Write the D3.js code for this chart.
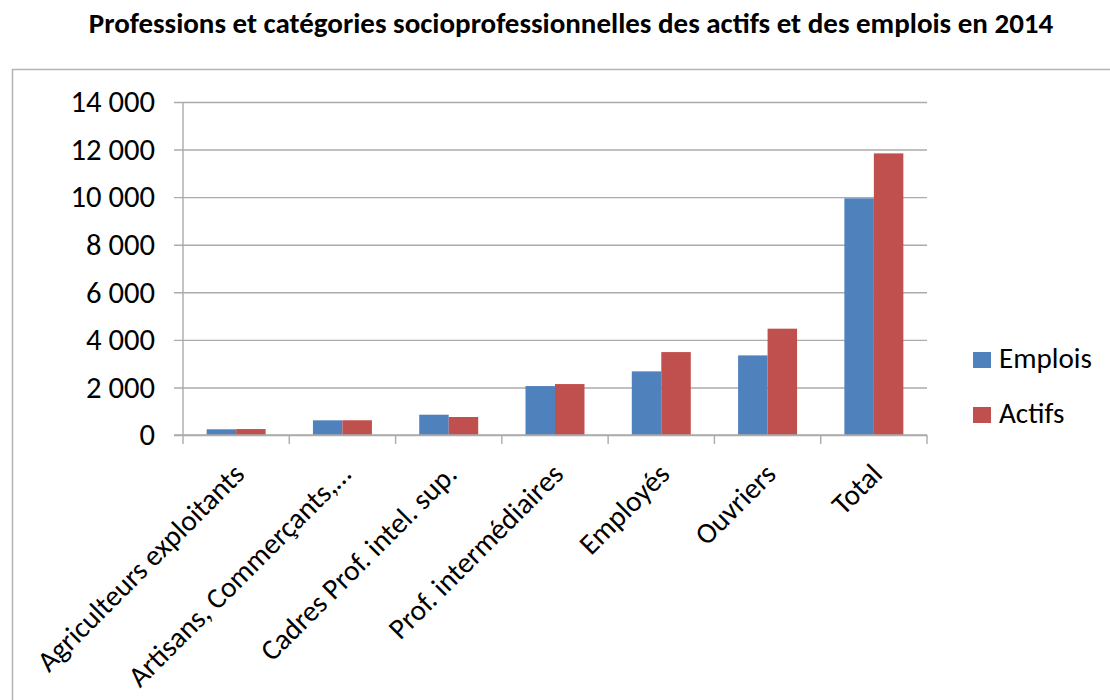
<!DOCTYPE html>
<html>
<head>
<meta charset="utf-8">
<script src="https://cdn.jsdelivr.net/npm/d3@7"></script>
<style>
  body { margin: 0; background: #fff; }
  svg { display: block; }
  text { font-family: Carlito, Calibri, "Open Sans", sans-serif; fill: #000; }
</style>
</head>
<body>
<svg width="1110" height="700"></svg>
<script>
// categories and values
var categories = ["Agriculteurs exploitants", "Artisans, Commerçants,…", "Cadres Prof. intel. sup.",
                  "Prof. intermédiaires", "Employés", "Ouvriers", "Total"];
var emplois = [240, 617, 853, 2058, 2675, 3347, 9950];
var actifs  = [250, 620, 756, 2142, 3486, 4470, 11840];
var seriesNames = ["Emplois", "Actifs"];
var yTicks = [0, 2000, 4000, 6000, 8000, 10000, 12000, 14000];
var title = "Professions et catégories socioprofessionnelles des actifs et des emplois en 2014";

var colors = {"Emplois": "#4f81bd", "Actifs": "#c0504d"};

var svg = d3.select("svg");

var margin = {top: 102, left: 183, right: 183, bottom: 265},
    width = 927 - margin.left,
    height = 435 - margin.top;

var locale = d3.formatLocale({decimal: ",", thousands: " ", grouping: [3], currency: ["", " €"]});
var fmt = locale.format(",d");

// pick font sizes by measured width
function fitSize(str, target, weight) {
  var t = svg.append("text").attr("font-size", 100).attr("font-weight", weight || "normal").text(str);
  var w = t.node().getComputedTextLength();
  t.remove();
  return 100 * target / w;
}
var bodySize = fitSize("Emplois", 93);
var titleSize = fitSize(title, 965, "bold");

// outer frame
svg.append("rect")
    .attr("x", 12.5).attr("y", 69.5)
    .attr("width", 1120).attr("height", 700)
    .attr("fill", "none")
    .attr("stroke", "#b4b4b4")
    .attr("stroke-width", 1.5);

svg.append("text")
    .attr("x", 571).attr("y", 33)
    .attr("text-anchor", "middle")
    .attr("font-weight", "bold")
    .attr("font-size", titleSize)
    .text(title);

var g = svg.append("g").attr("transform", "translate(" + margin.left + "," + margin.top + ")");

var x0 = d3.scaleBand()
    .domain(categories)
    .range([0, width])
    .paddingInner(0.445)
    .paddingOuter(0.2225);

var x1 = d3.scaleBand()
    .domain(seriesNames)
    .range([0, x0.bandwidth()]);

var y = d3.scaleLinear()
    .domain([0, 14000])
    .range([height, 0]);

// gridlines + y labels
var yAxis = g.append("g")
    .call(d3.axisLeft(y).tickValues(yTicks).tickSize(-width - 9).tickFormat(fmt))
    .attr("transform", "translate(-9,0)");
yAxis.select(".domain").remove();
yAxis.selectAll(".tick line")
    .attr("x1", 0).attr("x2", width + 9)
    .attr("stroke", "#ababab").attr("stroke-width", 1.4);
yAxis.selectAll(".tick text")
    .attr("x", -19)
    .attr("font-size", bodySize * 1.05)
    .attr("font-family", null)
    .attr("fill", "#000");

// vertical axis line
g.append("line")
    .attr("x1", 0).attr("x2", 0)
    .attr("y1", 0).attr("y2", height)
    .attr("stroke", "#ababab").attr("stroke-width", 1.4);

// category tick marks at band boundaries
var bounds = d3.range(categories.length + 1).map(function(i) { return i * x0.step(); });
g.selectAll(".ctick")
    .data(bounds)
  .enter().append("line")
    .attr("class", "ctick")
    .attr("x1", function(d) { return d; }).attr("x2", function(d) { return d; })
    .attr("y1", height).attr("y2", height + 9)
    .attr("stroke", "#ababab").attr("stroke-width", 1.4);

// bars
var rows = categories.map(function(c, i) {
  return {cat: c, values: [{id: "Emplois", v: emplois[i]}, {id: "Actifs", v: actifs[i]}]};
});

var grp = g.selectAll(".grp")
    .data(rows)
  .enter().append("g")
    .attr("class", "grp")
    .attr("transform", function(d) { return "translate(" + x0(d.cat) + ",0)"; });

grp.selectAll("rect")
    .data(function(d) { return d.values; })
  .enter().append("rect")
    .attr("x", function(d) { return x1(d.id); })
    .attr("width", x1.bandwidth())
    .attr("y", function(d) { return y(d.v); })
    .attr("height", function(d) { return height - y(d.v); })
    .attr("fill", function(d) { return colors[d.id]; });

// redraw the zero line on top
g.append("line")
    .attr("x1", -9).attr("x2", width)
    .attr("y1", height).attr("y2", height)
    .attr("stroke", "#ababab").attr("stroke-width", 1.4);

// rotated category labels
g.selectAll(".clabel")
    .data(categories)
  .enter().append("text")
    .attr("class", "clabel")
    .attr("text-anchor", "end")
    .attr("font-size", bodySize)
    .attr("transform", function(d) {
      return "translate(" + (x0(d) + x0.bandwidth() / 2 + 10) + "," + (height + 41) + ") rotate(-45)";
    })
    .text(function(d) { return d; });

// legend
var legend = svg.append("g").attr("transform", "translate(973,352)");
var li = legend.selectAll(".li")
    .data(seriesNames)
  .enter().append("g")
    .attr("transform", function(d, i) { return "translate(0," + (i * 55) + ")"; });
li.append("rect")
    .attr("width", 18).attr("height", 16)
    .attr("fill", function(d) { return colors[d]; });
li.append("text")
    .attr("x", 26).attr("y", 16)
    .attr("font-size", bodySize)
    .text(function(d) { return d; });
</script>
</body>
</html>
